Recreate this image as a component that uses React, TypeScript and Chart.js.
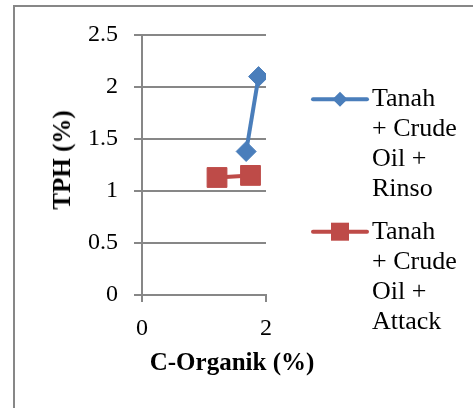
import React, { useEffect, useRef } from "react";
import { Chart, registerables } from "chart.js";

Chart.register(...registerables);

const seriesNames = ["Tanah + Crude Oil + Rinso", "Tanah + Crude Oil + Attack"];
const legendLines = [
  ["Tanah", "+ Crude", "Oil +", "Rinso"],
  ["Tanah", "+ Crude", "Oil +", "Attack"],
];
const rinsoX = [1.68, 1.88];
const rinsoY = [1.38, 2.1];
const attackX = [1.21, 1.75];
const attackY = [1.13, 1.15];
const xTitle = "C-Organik (%)";
const yTitle = "TPH (%)";

const BLUE = "#4A7EBB";
const RED = "#BE4B48";
const GRAY = "#878787";
const FONT = '"Liberation Serif", "Times New Roman", serif';

export default function App() {
  const ref = useRef<HTMLCanvasElement>(null);

  useEffect(() => {
    if (!ref.current) return;
    const chart = new Chart(ref.current, {
      type: "scatter",
      data: {
        datasets: [
          {
            label: seriesNames[0],
            data: rinsoX.map((x, i) => ({ x, y: rinsoY[i] })),
            showLine: true,
            borderColor: BLUE,
            backgroundColor: BLUE,
            borderWidth: 4,
            pointStyle: "rectRot",
            pointRadius: 10,
            pointBorderWidth: 1,
          },
          {
            label: seriesNames[1],
            data: attackX.map((x, i) => ({ x, y: attackY[i] })),
            showLine: true,
            borderColor: RED,
            backgroundColor: RED,
            borderWidth: 4,
            pointStyle: "rect",
            pointRadius: 14,
            pointBorderWidth: 1,
          },
        ],
      },
      options: {
        animation: false,
        responsive: false,
        layout: { padding: { left: 0, top: 35, right: 207, bottom: 0 } },
        plugins: { legend: { display: false }, tooltip: { enabled: false } },
        scales: {
          x: {
            type: "linear",
            min: 0,
            max: 2,
            afterFit: (s: any) => {
              s.height = 113;
            },
            ticks: {
              stepSize: 2,
              color: "#000",
              padding: 12,
              font: { family: FONT, size: 24 },
              callback: (v: any) => String(v),
            },
            grid: {
              drawOnChartArea: false,
              drawTicks: true,
              tickLength: 7,
              color: GRAY,
              lineWidth: 2,
            },
            border: { display: true, color: GRAY, width: 2 },
          },
          y: {
            min: 0,
            max: 2.5,
            afterFit: (s: any) => {
              s.width = 142;
            },
            ticks: {
              stepSize: 0.5,
              color: "#000",
              padding: 16,
              font: { family: FONT, size: 24 },
              callback: (v: any) => String(v),
            },
            grid: {
              color: GRAY,
              lineWidth: 2,
              tickLength: 8,
            },
            border: { display: true, color: GRAY, width: 2 },
          },
        },
      },
    });
    return () => chart.destroy();
  }, []);

  const legendColors = [BLUE, RED];
  const legendTops = [83, 215.5];
  const markerY = [99.3, 231.7];

  return (
    <div style={{ position: "fixed", left: 0, top: 0, width: 473, height: 408, background: "#fff", overflow: "hidden" }}>
      <div
        style={{
          position: "absolute",
          left: 13,
          top: 5,
          width: 600,
          height: 600,
          borderLeft: `2px solid ${GRAY}`,
          borderTop: `2px solid ${GRAY}`,
        }}
      />
      <canvas ref={ref} width={473} height={408} style={{ position: "absolute", left: 0, top: 0, width: 473, height: 408 }} />
      <div
        style={{
          position: "absolute",
          left: 62,
          top: 160,
          transform: "translate(-50%, -50%) rotate(-90deg)",
          fontFamily: FONT,
          fontWeight: "bold",
          fontSize: 25,
          whiteSpace: "nowrap",
          lineHeight: "30px",
        }}
      >
        {yTitle}
      </div>
      <div
        style={{
          position: "absolute",
          left: 232,
          top: 362,
          transform: "translate(-50%, -50%)",
          fontFamily: FONT,
          fontWeight: "bold",
          fontSize: 25,
          whiteSpace: "nowrap",
          lineHeight: "30px",
        }}
      >
        {xTitle}
      </div>
      <svg width={473} height={408} style={{ position: "absolute", left: 0, top: 0 }}>
        {markerY.map((y, i) => (
          <g key={i}>
            <line x1={313} x2={367} y1={y} y2={y} stroke={legendColors[i]} strokeWidth={4} strokeLinecap="round" />
            {i === 0 ? (
              <polygon points={`340,${y - 7.5} 347.5,${y} 340,${y + 7.5} 332.5,${y}`} fill={BLUE} />
            ) : (
              <rect x={331} y={y - 9} width={18} height={18} fill={RED} />
            )}
          </g>
        ))}
      </svg>
      {legendLines.map((lines, i) => (
        <div
          key={i}
          style={{
            position: "absolute",
            left: 372,
            top: legendTops[i],
            fontFamily: FONT,
            fontSize: 26,
            lineHeight: "30px",
            whiteSpace: "nowrap",
            color: "#000",
          }}
        >
          {lines.map((l, j) => (
            <div key={j}>{l}</div>
          ))}
        </div>
      ))}
    </div>
  );
}
